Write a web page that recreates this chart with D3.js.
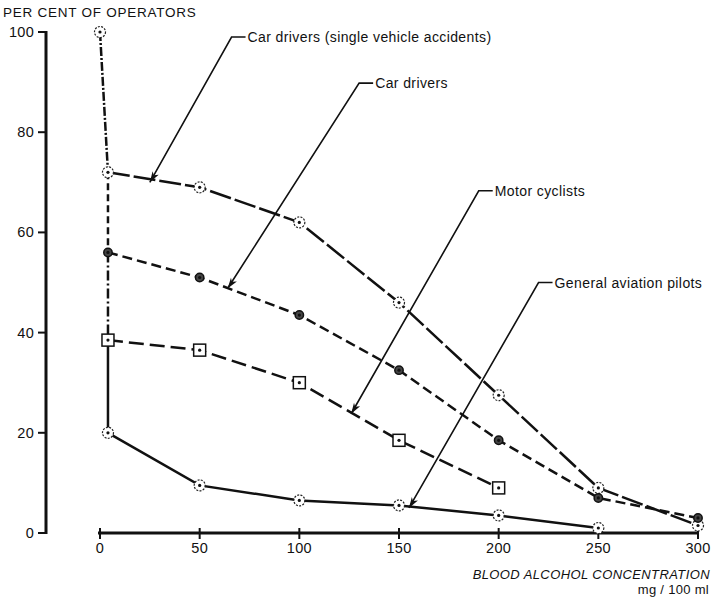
<!DOCTYPE html>
<html>
<head>
<meta charset="utf-8">
<script src="https://cdn.jsdelivr.net/npm/d3@7"></script>
<style>
    body { margin: 0; background: #fff; }
    text { font-family: "Liberation Sans", Arial, sans-serif; fill: #111; }
</style>
</head>
<body>
<svg id="canvas" width="714" height="603"></svg>
<script>
// blood alcohol (mg/100ml) and per cent of operators
var xValues = [4, 50, 100, 150, 200, 250, 300];
var singleVehicle = [72, 69, 62, 46, 27.5, 9, 1.5];
var carDrivers = [56, 51, 43.5, 32.5, 18.5, 7, 3];
var motorCyclists = [38.5, 36.5, 30, 18.5, 9];
var aviationPilots = [20, 9.5, 6.5, 5.5, 3.5, 1];
var origin = [0, 100];

var xTicks = [0, 50, 100, 150, 200, 250, 300];
var yTicks = [0, 20, 40, 60, 80, 100];

// label, where the leader bends (data coords), where the arrow lands on the line
var annotations = [
    { label: 'Car drivers (single vehicle accidents)', bend: [66, 99], tip: [25, 70] },
    { label: 'Car drivers', bend: [130, 89.8], tip: [64, 48.8] },
    { label: 'Motor cyclists', bend: [190, 68.3], tip: [126, 23.8] },
    { label: 'General aviation pilots', bend: [220, 50], tip: [155, 5] }
];

function pairs(vals) {
    "use strict";
    return vals.map(function(v, i) { return [xValues[i], v]; });
}

function drawChart() {
    "use strict";

    var svg = d3.select(document.getElementById('canvas'));
    var x = d3.scaleLinear().domain([0, 300]).range([100, 698]);
    var y = d3.scaleLinear().domain([0, 100]).range([533, 32]);

    var line = d3.line()
        .x(function(d) { return x(d[0]); })
        .y(function(d) { return y(d[1]); });

    // y axis (drawn by hand, thick like the print)
    var yAxis = svg.append('g');
    yAxis.append('line')
        .attr('x1', 46).attr('x2', 46)
        .attr('y1', y(100) - 1).attr('y2', y(0) + 1)
        .attr('stroke', '#111').attr('stroke-width', 3);
    yAxis.selectAll('.ytick').data(yTicks).enter().append('line')
        .attr('x1', 38).attr('x2', 46)
        .attr('y1', function(d) { return y(d); })
        .attr('y2', function(d) { return y(d); })
        .attr('stroke', '#111').attr('stroke-width', 2);
    yAxis.selectAll('.ylab').data(yTicks).enter().append('text')
        .attr('x', 34)
        .attr('y', function(d) { return y(d) + 5; })
        .attr('text-anchor', 'end')
        .attr('font-size', 14.5)
        .attr('letter-spacing', 0.3)
        .text(function(d) { return d; });

    // x axis
    var xAxis = svg.append('g');
    xAxis.append('line')
        .attr('x1', x(0) - 2).attr('x2', x(300) + 1)
        .attr('y1', y(0)).attr('y2', y(0))
        .attr('stroke', '#111').attr('stroke-width', 3);
    xAxis.selectAll('.xtick').data(xTicks).enter().append('line')
        .attr('x1', function(d) { return x(d); })
        .attr('x2', function(d) { return x(d); })
        .attr('y1', y(0) - 5).attr('y2', y(0) + 6)
        .attr('stroke', '#111').attr('stroke-width', 2);
    xAxis.selectAll('.xlab').data(xTicks).enter().append('text')
        .attr('x', function(d) { return x(d); })
        .attr('y', y(0) + 20)
        .attr('text-anchor', 'middle')
        .attr('font-size', 14.5)
        .attr('letter-spacing', 0.3)
        .text(function(d) { return d; });

    svg.append('text')
        .attr('x', 3).attr('y', 17)
        .attr('font-size', 13.5)
        .attr('letter-spacing', 0.75)
        .text('PER CENT OF OPERATORS');
    svg.append('text')
        .attr('x', 710).attr('y', 579)
        .attr('text-anchor', 'end')
        .attr('font-size', 13)
        .attr('font-style', 'italic')
        .attr('letter-spacing', 0.4)
        .text('BLOOD ALCOHOL CONCENTRATION');
    svg.append('text')
        .attr('x', 709).attr('y', 594)
        .attr('text-anchor', 'end')
        .attr('font-size', 13)
        .attr('letter-spacing', 0.3)
        .text('mg / 100 ml');

    // vertical drop from 100% through the first point of each series
    var firsts = [origin, [xValues[0], singleVehicle[0]], [xValues[0], carDrivers[0]],
        [xValues[0], motorCyclists[0]], [xValues[0], aviationPilots[0]]];
    var dropDash = ['9,2,2,2', '7,4', '10,3,2,3', null];
    d3.pairs(firsts).forEach(function(p, i) {
        svg.append('path')
            .attr('d', line(p))
            .attr('fill', 'none')
            .attr('stroke', '#111')
            .attr('stroke-width', 2.5)
            .attr('stroke-dasharray', dropDash[i]);
    });

    var series = [
        { data: pairs(singleVehicle), dash: '22,4', marker: 'ring' },
        { data: pairs(carDrivers), dash: '10,5', marker: 'dot' },
        { data: pairs(motorCyclists), dash: '15,6', marker: 'square' },
        { data: pairs(aviationPilots), dash: null, marker: 'ring' }
    ];

    svg.selectAll('.series').data(series).enter().append('path')
        .attr('class', 'series')
        .attr('d', function(s) { return line(s.data); })
        .attr('fill', 'none')
        .attr('stroke', '#111')
        .attr('stroke-width', 2.5)
        .attr('stroke-dasharray', function(s) { return s.dash; });

    // leaders with arrow heads
    var defs = svg.append('defs');
    defs.append('marker')
        .attr('id', 'arrow')
        .attr('viewBox', '-12 -5 14 10')
        .attr('refX', 0).attr('refY', 0)
        .attr('markerWidth', 14).attr('markerHeight', 10)
        .attr('markerUnits', 'userSpaceOnUse')
        .attr('orient', 'auto')
        .append('path')
        .attr('d', 'M0,0 L-11,-4 L-8,0 L-11,3 Z')
        .attr('fill', '#111');

    var ann = svg.selectAll('.ann').data(annotations).enter().append('g');
    ann.append('path')
        .attr('d', function(a) {
            var bx = x(a.bend[0]), by = y(a.bend[1]);
            return 'M' + (bx + 14) + ',' + by + 'L' + bx + ',' + by +
                'L' + x(a.tip[0]) + ',' + y(a.tip[1]);
        })
        .attr('fill', 'none')
        .attr('stroke', '#111')
        .attr('stroke-width', 1.6)
        .attr('marker-end', 'url(#arrow)');
    ann.append('text')
        .attr('x', function(a) { return x(a.bend[0]) + 16; })
        .attr('y', function(a) { return y(a.bend[1]) + 5; })
        .attr('font-size', 14)
        .attr('letter-spacing', 0.4)
        .text(function(a) { return a.label; });

    // markers
    var pts = [];
    series.forEach(function(s) {
        s.data.forEach(function(d) { pts.push({ d: d, m: s.marker }); });
    });
    pts.push({ d: origin, m: 'ring' });

    var mk = svg.selectAll('.mk').data(pts).enter().append('g')
        .attr('transform', function(p) { return 'translate(' + x(p.d[0]) + ',' + y(p.d[1]) + ')'; });
    mk.filter(function(p) { return p.m === 'ring'; }).append('circle')
        .attr('r', 5.5)
        .attr('fill', '#fff')
        .attr('stroke', '#222')
        .attr('stroke-width', 1.2)
        .attr('stroke-dasharray', '2,1.3');
    mk.filter(function(p) { return p.m === 'square'; }).append('rect')
        .attr('x', -6).attr('y', -6)
        .attr('width', 12).attr('height', 12)
        .attr('fill', '#fff')
        .attr('stroke', '#111')
        .attr('stroke-width', 1.5);
    mk.filter(function(p) { return p.m === 'dot'; }).append('circle')
        .attr('r', 4.2)
        .attr('fill', '#444')
        .attr('stroke', '#111')
        .attr('stroke-width', 1.5);
    mk.append('circle')
        .attr('r', 1.6)
        .attr('fill', '#111');
}

drawChart();
</script>
</body>
</html>
